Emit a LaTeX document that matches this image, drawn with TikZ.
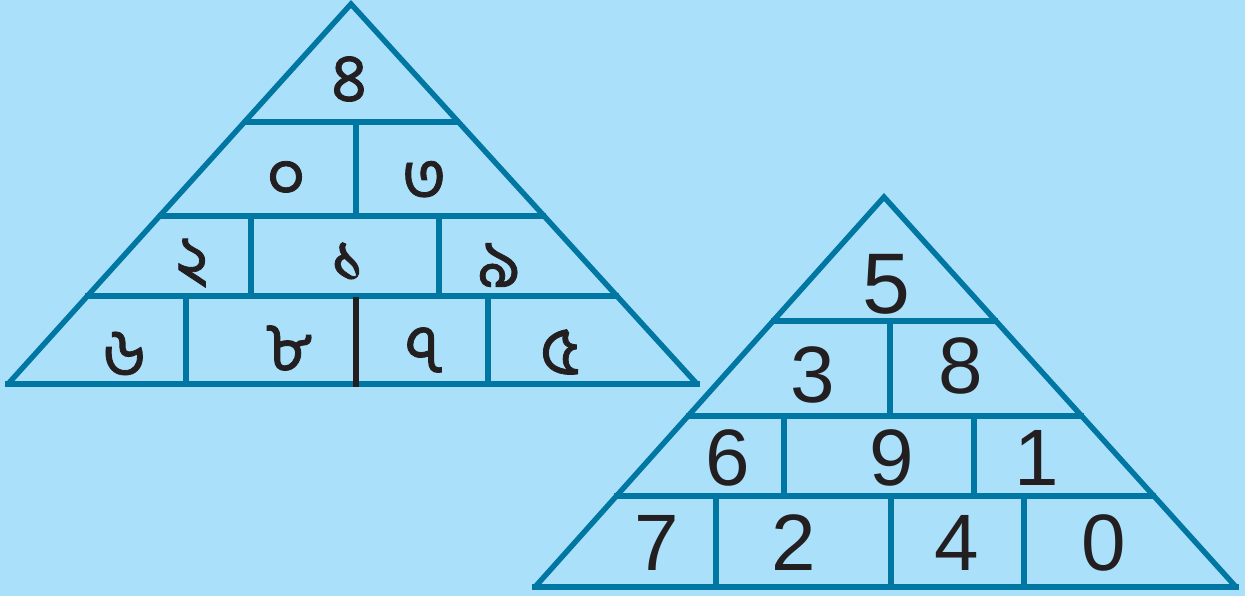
\documentclass[tikz,border=0pt]{standalone}
\usepackage{fontspec}
\setmainfont{Liberation Sans}
\newfontfamily\bengfont[Script=Bengali,FakeBold=1.2]{Hind Siliguri}
\usetikzlibrary{calc}
\definecolor{sky}{HTML}{AAE0FA}
\definecolor{brick}{HTML}{0077A3}
\definecolor{ink}{HTML}{231F20}
\tikzset{
  wall/.style={brick,line width=2.7pt},
  bdigit/.style={ink,font=\bengfont\fontsize{34}{34}\selectfont,inner sep=0pt},
  edigit/.style={ink,font=\fontsize{40}{40}\selectfont,inner sep=0pt}
}
\begin{document}
\begin{tikzpicture}[x=0.5pt,y=-0.5pt]
        \fill[sky] (0,0) rectangle (1245,596);
        \useasboundingbox (0,0) rectangle (1245,596);

        %bengali pyramid
        \coordinate (la) at (351,4);
        \coordinate (lbl) at (8,384);
        \coordinate (lbr) at (697,384);
        \draw[wall,line join=miter] (lbl)--(la)--(lbr);
        \draw[wall] ($(lbl)+(-3,0)$)--($(lbr)+(3,0)$);
        \draw[wall] ($(la)!0.3105!(lbl)+(-2,0)$)--($(la)!0.3105!(lbr)+(2,0)$)
                    ($(la)!0.5579!(lbl)+(-2,0)$)--($(la)!0.5579!(lbr)+(2,0)$)
                    ($(la)!0.7684!(lbl)+(-2,0)$)--($(la)!0.7684!(lbr)+(2,0)$);
        \draw[wall] (356,122)--(356,216)
                    (251,216)--(251,296) (439,216)--(439,296)
                    (186,296)--(186,384) (488,296)--(488,384);
        \draw[ink,line width=2.8pt] (356,297)--(356,387);
        \node[bdigit] (l1) at (349,79){৪};
        \node[bdigit] (l2) at (286,180){০};
        \node[bdigit] (l3) at (424,181){৩};
        \node[bdigit] (l4) at (192,263){২};
        \node[bdigit] (l5) at (348,262){১};
        \node[bdigit] (l6) at (499,265){৯};
        \node[bdigit] (l7) at (124,354){৬};
        \node[bdigit] (l8) at (289,348){৮};
        \node[bdigit] (l9) at (424,350){৭};
        \node[bdigit] (l10) at (560,352){৫};

        %arabic numeral pyramid
        \coordinate (ra) at (884,197);
        \coordinate (rbl) at (535,587);
        \coordinate (rbr) at (1236,587);
        \draw[wall,line join=miter] (rbl)--(ra)--(rbr);
        \draw[wall] ($(rbl)+(-3,0)$)--($(rbr)+(3,0)$);
        \draw[wall] ($(ra)!0.318!(rbl)+(-2,0)$)--($(ra)!0.318!(rbr)+(2,0)$)
                    ($(ra)!0.5615!(rbl)+(-2,0)$)--($(ra)!0.5615!(rbr)+(2,0)$)
                    ($(ra)!0.7667!(rbl)+(-2,0)$)--($(ra)!0.7667!(rbr)+(2,0)$);
        \draw[wall] (890,321)--(890,416)
                    (784,416)--(784,496) (974,416)--(974,496)
                    (716,496)--(716,587) (891,496)--(891,587) (1024,496)--(1024,587);
        \node[edigit,font=\fontsize{43}{43}\selectfont] (r1) at (886,284){5};
        \node[edigit] (r2) at (813,375){3};
        \node[edigit] (r3) at (961,366){8};
        \node[edigit] (r4) at (728,458){6};
        \node[edigit] (r5) at (892,458){9};
        \node[edigit] (r6) at (1037,458){1};
        \node[edigit] (r7) at (657,543){7};
        \node[edigit] (r8) at (794,543){2};
        \node[edigit] (r9) at (957,543){4};
        \node[edigit] (r10) at (1104,543){0};
\end{tikzpicture}
\end{document}
